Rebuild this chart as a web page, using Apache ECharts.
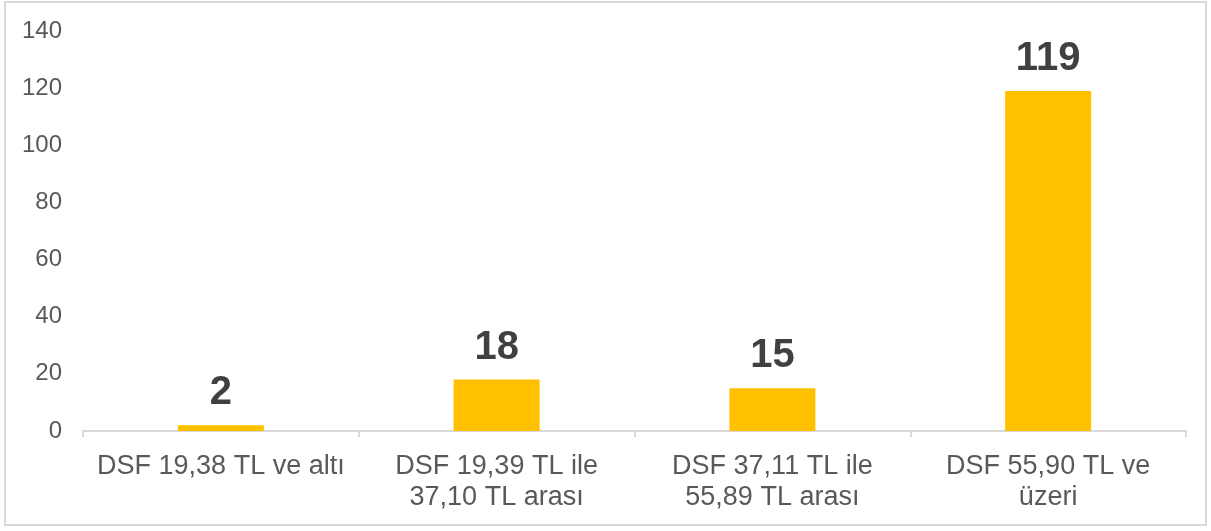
<!DOCTYPE html>
<html><head><meta charset="utf-8">
<script src="https://cdn.jsdelivr.net/npm/echarts@6/dist/echarts.min.js"></script>
<style>
html,body{margin:0;padding:0;background:#fff;}
#frame{position:absolute;left:4px;top:1px;width:1203px;height:525px;border:2px solid #d9d9d9;box-sizing:border-box;}
#c{position:absolute;left:0;top:0;width:1211px;height:531px;}
</style></head>
<body>
<div id="frame"></div>
<div id="c"></div>
<script>
const categories = ['DSF 19,38 TL ve altı', 'DSF 19,39 TL ile\n37,10 TL arası', 'DSF 37,11 TL ile\n55,89 TL arası', 'DSF 55,90 TL ve\nüzeri'];
const values = [2, 18, 15, 119];
const chart = echarts.init(document.getElementById('c'));
chart.setOption({
  animation: false,
  grid: {left: 83, right: 25, top: 31, bottom: 100},
  xAxis: {
    type: 'category', data: categories,
    axisLine: {lineStyle: {color: '#d9d9d9', width: 2}},
    axisTick: {show: true, length: 6, lineStyle: {color: '#d9d9d9', width: 2}},
    axisLabel: {interval: 0, color: '#595959', fontSize: 27, fontFamily: 'Liberation Sans, Arial', lineHeight: 31, margin: 20}
  },
  yAxis: {
    type: 'value', min: 0, max: 140, interval: 20,
    splitLine: {show: false}, axisLine: {show: false}, axisTick: {show: false},
    axisLabel: {color: '#595959', fontSize: 24, fontFamily: 'Liberation Sans, Arial', margin: 21}
  },
  series: [{
    type: 'bar', data: values, barWidth: 86,
    itemStyle: {color: '#FFC000'},
    label: {show: true, position: 'top', distance: 12, color: '#404040', fontSize: 40, fontWeight: 'bold', fontFamily: 'Liberation Sans, Arial'}
  }]
});
</script>
</body></html>
